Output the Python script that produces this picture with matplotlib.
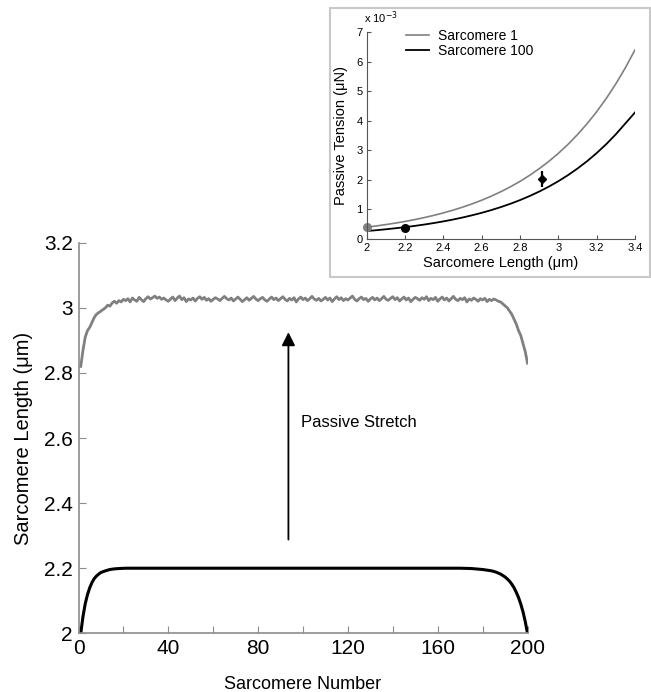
import matplotlib
matplotlib.use('Agg')
import matplotlib.pyplot as plt
from matplotlib.patches import Rectangle

plt.rcParams['font.family'] = ['Liberation Sans', 'DejaVu Sans']

# main panel: sarcomere lengths along the myofibril
stretched_len = [
    2.820, 2.870, 2.910, 2.930, 2.940, 2.955, 2.970, 2.980, 2.985, 2.990,
    2.995, 3.000, 3.008, 3.005, 3.015, 3.020, 3.014, 3.022, 3.018, 3.026,
    3.022, 3.028, 3.018, 3.030, 3.024, 3.020, 3.032, 3.025, 3.019, 3.028,
    3.034, 3.027, 3.031, 3.036, 3.029, 3.033, 3.026, 3.030, 3.024, 3.020,
    3.027, 3.033, 3.022, 3.030, 3.036, 3.025, 3.031, 3.019, 3.027, 3.024,
    3.030, 3.021, 3.029, 3.034, 3.026, 3.032, 3.023, 3.028, 3.020, 3.026,
    3.031, 3.027, 3.022, 3.029, 3.035, 3.028, 3.024, 3.030, 3.021, 3.027,
    3.033, 3.026, 3.019, 3.025, 3.031, 3.023, 3.029, 3.035, 3.027, 3.022,
    3.028, 3.032, 3.024, 3.020, 3.027, 3.033, 3.025, 3.030, 3.022, 3.028,
    3.034, 3.026, 3.021, 3.029, 3.024, 3.031, 3.018, 3.027, 3.033, 3.025,
    3.030, 3.022, 3.028, 3.035, 3.027, 3.023, 3.029, 3.021, 3.026, 3.032,
    3.024, 3.030, 3.019, 3.027, 3.034, 3.025, 3.031, 3.022, 3.028, 3.024,
    3.030, 3.036, 3.026, 3.021, 3.028, 3.033, 3.025, 3.029, 3.020, 3.027,
    3.032, 3.024, 3.030, 3.022, 3.028, 3.035, 3.026, 3.023, 3.029, 3.034,
    3.025, 3.031, 3.021, 3.027, 3.033, 3.024, 3.030, 3.019, 3.026, 3.032,
    3.028, 3.023, 3.031, 3.026, 3.034, 3.022, 3.029, 3.025, 3.032, 3.020,
    3.027, 3.033, 3.024, 3.030, 3.021, 3.028, 3.035, 3.026, 3.022, 3.029,
    3.025, 3.031, 3.018, 3.027, 3.023, 3.030, 3.026, 3.020, 3.028, 3.024,
    3.029, 3.019, 3.026, 3.022, 3.027, 3.024, 3.020, 3.018, 3.012, 3.006,
    3.000, 2.990, 2.980, 2.965, 2.950, 2.930, 2.915, 2.890, 2.865, 2.830,
]
stretched_num = list(range(1, len(stretched_len) + 1))

rest_num = [1, 2, 3, 4, 5, 6, 7, 8, 9, 10, 12, 14, 16, 18, 21, 40, 80, 120, 160,
            170, 175, 180, 184, 186, 188, 190, 191, 192, 193, 194, 195, 196,
            197, 198, 199, 200]
rest_len = [2.000, 2.052, 2.091, 2.119, 2.140, 2.156, 2.168, 2.176, 2.182, 2.187,
            2.192, 2.196, 2.198, 2.199, 2.200, 2.200, 2.200, 2.200, 2.200,
            2.200, 2.199, 2.196, 2.192, 2.188, 2.182, 2.173, 2.167, 2.160,
            2.151, 2.140, 2.126, 2.110, 2.090, 2.066, 2.036, 2.000]

# inset: passive tension vs sarcomere length (x 10^-3 uN)
sl = [2.00, 2.05, 2.10, 2.15, 2.20, 2.25, 2.30, 2.35, 2.40, 2.45, 2.50, 2.55,
      2.60, 2.65, 2.70, 2.75, 2.80, 2.85, 2.90, 2.95, 3.00, 3.05, 3.10, 3.15,
      3.20, 3.25, 3.30, 3.35, 3.40]
tension_s1 = [0.400, 0.442, 0.488, 0.539, 0.594, 0.656, 0.724, 0.800, 0.883,
              0.975, 1.077, 1.189, 1.312, 1.449, 1.600, 1.766, 1.950, 2.153,
              2.377, 2.624, 2.897, 3.198, 3.532, 3.899, 4.305, 4.753, 5.247,
              5.793, 6.396]
tension_s100 = [0.270, 0.298, 0.329, 0.364, 0.401, 0.443, 0.489, 0.540, 0.596,
                0.658, 0.727, 0.803, 0.886, 0.978, 1.080, 1.192, 1.316, 1.453,
                1.604, 1.771, 1.955, 2.159, 2.384, 2.632, 2.906, 3.208, 3.542,
                3.910, 4.280]
dot_s1 = (2.0, 0.40)
dot_s100 = (2.2, 0.38)
meas = (2.917, 2.03, 0.27)

GRAY = '#808080'
AX = '#8c8c8c'

fig = plt.figure(figsize=(6.51, 6.92), dpi=100)

ax = fig.add_axes([0.1206, 0.0848, 0.6897, 0.5645])
ax.plot(stretched_num, stretched_len, color=GRAY, lw=2.0)
ax.plot(rest_num, rest_len, color='black', lw=2.2)
ax.set_xlim(0, 200)
ax.set_ylim(2, 3.2)
ax.set_xticks(range(0, 201, 20))
ax.set_xticklabels([str(v) if v % 40 == 0 else '' for v in range(0, 201, 20)])
ax.set_yticks([2, 2.2, 2.4, 2.6, 2.8, 3, 3.2])
ax.set_yticklabels(['2', '2.2', '2.4', '2.6', '2.8', '3', '3.2'])
for s in ['top', 'right']:
    ax.spines[s].set_visible(False)
for s in ['left', 'bottom']:
    ax.spines[s].set_color(AX)
    ax.spines[s].set_linewidth(1.2)
ax.tick_params(direction='in', length=5, color=AX, labelsize=15, pad=4)
ax.set_xlabel('Sarcomere Number', fontsize=13, labelpad=13)
ax.set_ylabel('Sarcomere Length (\u03bcm)', fontsize=14.5, labelpad=8)

ax.annotate('', xy=(93.5, 2.925), xytext=(93.5, 2.288),
            arrowprops=dict(arrowstyle='-|>', color='black', lw=1.3,
                            mutation_scale=20, shrinkA=0, shrinkB=0))
ax.text(99, 2.648, 'Passive Stretch', fontsize=12, va='center', ha='left')

# inset frame
fig.patches.append(Rectangle((330 / 651, 1 - 277 / 692), 320 / 651, 269 / 692,
                             transform=fig.transFigure, fill=False,
                             edgecolor='#c8c8c8', lw=1.5))

ins = fig.add_axes([0.5633, 0.6546, 0.4121, 0.2991])
ins.plot(sl, tension_s1, color=GRAY, lw=1.2, label='Sarcomere 1')
ins.plot(sl, tension_s100, color='black', lw=1.3, label='Sarcomere 100')
ins.plot(*dot_s1, 'o', color=GRAY, ms=5.5, clip_on=False)
ins.plot(*dot_s100, 'o', color='black', ms=5.5)
ins.errorbar(meas[0], meas[1], yerr=meas[2], fmt='D', color='black', ms=4.5,
             capsize=0, lw=1.6)
ins.set_xlim(2, 3.4)
ins.set_ylim(0, 7)
ins.set_xticks([2, 2.2, 2.4, 2.6, 2.8, 3, 3.2, 3.4])
ins.set_xticklabels(['2', '2.2', '2.4', '2.6', '2.8', '3', '3.2', '3.4'])
ins.set_yticks(range(0, 8))
for s in ['top', 'right']:
    ins.spines[s].set_visible(False)
for s in ['left', 'bottom']:
    ins.spines[s].set_color('#555555')
    ins.spines[s].set_linewidth(0.8)
ins.tick_params(direction='in', length=3, color='#555555', labelsize=8, pad=3)
ins.set_xlabel('Sarcomere Length (\u03bcm)', fontsize=10.5, labelpad=2)
ins.set_ylabel('Passive Tension (\u03bcN)', fontsize=10.5, labelpad=6)
ins.text(-0.01, 1.03, 'x 10$^{-3}$', transform=ins.transAxes, fontsize=8,
         ha='left', va='bottom')
ins.legend(loc='upper left', bbox_to_anchor=(0.125, 1.04), frameon=False,
           fontsize=10, handlelength=1.7, handletextpad=0.6, labelspacing=0.05,
           borderaxespad=0)

fig.savefig('out.png', dpi=100)
